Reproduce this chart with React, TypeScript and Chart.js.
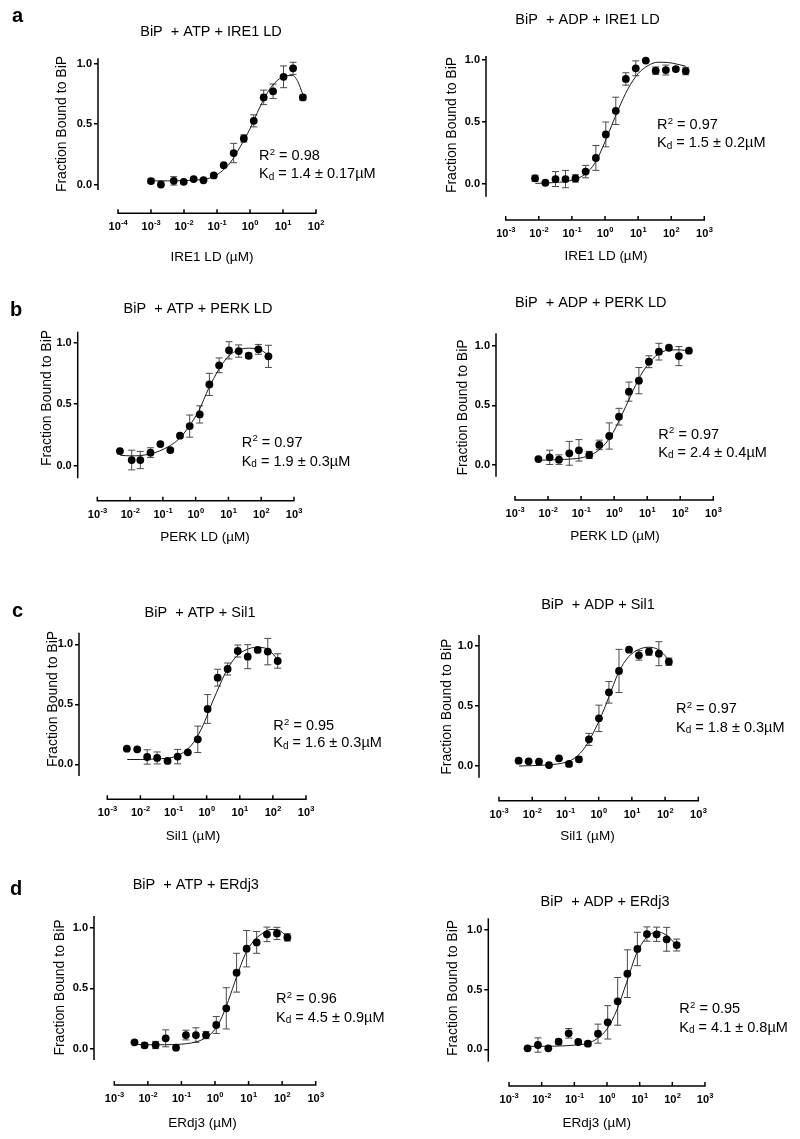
import React, { useEffect, useRef } from "react";
import { Chart, registerables } from "chart.js";

Chart.register(...registerables);

const FONT = "'Liberation Sans', Arial, Helvetica, sans-serif";

// ---------- tick labels ----------
const yTickValues = [0, 0.5, 1.0];
const decadesIreAtp = [1e-4, 1e-3, 1e-2, 1e-1, 1e0, 1e1, 1e2];
const decadesStd = [1e-3, 1e-2, 1e-1, 1e0, 1e1, 1e2, 1e3];

// ---------- a: BiP + ATP + IRE1 LD ----------
const aAtpConc = [0.001, 0.002, 0.0049, 0.0098, 0.0196, 0.039, 0.08, 0.16, 0.32, 0.65, 1.3, 2.6, 5.0, 10.4, 20.2, 40];
const aAtpFrac = [0.028, 0.0, 0.03, 0.022, 0.045, 0.035, 0.075, 0.16, 0.26, 0.38, 0.526, 0.72, 0.77, 0.89, 0.96, 0.72];
const aAtpErr = [0.02, 0, 0.035, 0.01, 0.01, 0.01, 0.01, 0, 0.08, 0.03, 0.05, 0.06, 0.06, 0.09, 0.05, 0.02];
const aAtpFitConc = [0.001, 0.00316, 0.01, 0.0316, 0.063, 0.126, 0.251, 0.501, 1, 2, 3.98, 7.94, 12.6, 20, 28.2, 39.8];
const aAtpFitFrac = [0.03, 0.03, 0.032, 0.04, 0.055, 0.1, 0.18, 0.31, 0.46, 0.64, 0.79, 0.875, 0.9, 0.9, 0.85, 0.745];

// ---------- a: BiP + ADP + IRE1 LD ----------
const aAdpConc = [0.0077, 0.0158, 0.032, 0.064, 0.128, 0.26, 0.53, 1.06, 2.12, 4.26, 8.5, 17.1, 34, 69, 138, 275];
const aAdpFrac = [0.046, 0.01, 0.04, 0.04, 0.045, 0.1, 0.21, 0.4, 0.59, 0.847, 0.933, 0.995, 0.914, 0.919, 0.927, 0.911];
const aAdpErr = [0.025, 0, 0.06, 0.07, 0.03, 0.05, 0.1, 0.1, 0.11, 0.05, 0.06, 0, 0.03, 0.04, 0.01, 0.03];
const aAdpFitConc = [0.0079, 0.0316, 0.1, 0.251, 0.501, 1, 1.58, 2.51, 5.01, 10, 20, 39.8, 79.4, 158, 275];
const aAdpFitFrac = [0.005, 0.012, 0.03, 0.08, 0.17, 0.34, 0.47, 0.6, 0.77, 0.89, 0.955, 0.982, 0.98, 0.965, 0.95];

// ---------- b: BiP + ATP + PERK LD ----------
const bAtpConc = [0.0049, 0.0112, 0.0205, 0.042, 0.084, 0.169, 0.333, 0.658, 1.33, 2.62, 5.2, 10.4, 20.6, 41.6, 82, 166];
const bAtpFrac = [0.119, 0.046, 0.046, 0.106, 0.176, 0.127, 0.244, 0.322, 0.417, 0.661, 0.816, 0.938, 0.932, 0.894, 0.946, 0.889];
const bAtpErr = [0, 0.08, 0.07, 0.04, 0, 0.01, 0.01, 0.09, 0.07, 0.09, 0.06, 0.07, 0.05, 0.02, 0.04, 0.09];
const bAtpFitConc = [0.005, 0.01, 0.02, 0.0398, 0.0794, 0.158, 0.316, 0.631, 1.26, 2.51, 5.01, 10, 20, 39.8, 79.4, 166];
const bAtpFitFrac = [0.085, 0.08, 0.082, 0.095, 0.12, 0.16, 0.22, 0.32, 0.45, 0.63, 0.78, 0.89, 0.94, 0.955, 0.95, 0.9];

// ---------- b: BiP + ADP + PERK LD ----------
const bAdpConc = [0.0051, 0.0112, 0.0214, 0.044, 0.086, 0.177, 0.355, 0.71, 1.4, 2.8, 5.6, 11.3, 22.6, 45.4, 91, 183];
const bAdpFrac = [0.05, 0.064, 0.045, 0.098, 0.123, 0.084, 0.168, 0.243, 0.405, 0.615, 0.707, 0.866, 0.95, 0.983, 0.913, 0.958];
const bAdpErr = [0, 0.06, 0.04, 0.1, 0.09, 0.03, 0.04, 0.11, 0.07, 0.08, 0.11, 0.05, 0.07, 0, 0.08, 0];
const bAdpFitConc = [0.005, 0.01, 0.0316, 0.1, 0.2, 0.398, 0.794, 1.58, 3.16, 6.31, 12.6, 25.1, 50.1, 100, 183];
const bAdpFitFrac = [0.04, 0.042, 0.047, 0.06, 0.085, 0.14, 0.24, 0.4, 0.58, 0.75, 0.87, 0.94, 0.965, 0.965, 0.955];

// ---------- c: BiP + ATP + Sil1 ----------
const cAtpConc = [0.0039, 0.008, 0.016, 0.032, 0.066, 0.133, 0.27, 0.54, 1.07, 2.15, 4.3, 8.7, 17.4, 34.8, 70, 140];
const cAtpFrac = [0.13, 0.125, 0.061, 0.053, 0.028, 0.064, 0.1, 0.208, 0.461, 0.722, 0.794, 0.944, 0.897, 0.953, 0.939, 0.861];
const cAtpErr = [0, 0, 0.06, 0.05, 0, 0.06, 0, 0.11, 0.12, 0.07, 0.05, 0.05, 0.1, 0, 0.11, 0.06];
const cAtpFitConc = [0.004, 0.01, 0.0316, 0.1, 0.2, 0.398, 0.794, 1.26, 2, 3.98, 7.94, 15.8, 31.6, 56.2, 100, 141];
const cAtpFitFrac = [0.04, 0.04, 0.045, 0.06, 0.1, 0.18, 0.33, 0.47, 0.6, 0.78, 0.9, 0.955, 0.975, 0.97, 0.92, 0.87];

// ---------- c: BiP + ADP + Sil1 ----------
const cAdpConc = [0.0039, 0.0078, 0.016, 0.032, 0.064, 0.128, 0.255, 0.51, 1.02, 2.04, 4.1, 8.2, 16.3, 32.7, 65, 130];
const cAdpFrac = [0.044, 0.039, 0.036, 0.008, 0.064, 0.017, 0.056, 0.222, 0.397, 0.614, 0.792, 0.969, 0.922, 0.953, 0.936, 0.869];
const cAdpErr = [0, 0, 0, 0, 0, 0.02, 0.02, 0.05, 0.11, 0.09, 0.18, 0, 0.04, 0.03, 0.1, 0.03];
const cAdpFitConc = [0.004, 0.01, 0.0316, 0.1, 0.2, 0.398, 0.794, 1.26, 2, 3.98, 7.94, 15.8, 31.6, 63.1, 100, 132];
const cAdpFitFrac = [0.0, 0.003, 0.01, 0.03, 0.07, 0.16, 0.31, 0.43, 0.57, 0.78, 0.91, 0.97, 0.99, 0.97, 0.92, 0.88];

// ---------- d: BiP + ATP + ERdj3 ----------
const dAtpConc = [0.004, 0.008, 0.017, 0.034, 0.069, 0.136, 0.27, 0.54, 1.09, 2.17, 4.4, 8.75, 17.4, 35.3, 70, 143];
const dAtpFrac = [0.055, 0.03, 0.033, 0.088, 0.011, 0.115, 0.115, 0.115, 0.198, 0.335, 0.629, 0.827, 0.879, 0.945, 0.953, 0.92];
const dAtpErr = [0, 0.02, 0.03, 0.07, 0, 0.04, 0.06, 0.03, 0.07, 0.17, 0.16, 0.15, 0.09, 0.06, 0.05, 0.03];
const dAtpFitConc = [0.004, 0.01, 0.0316, 0.1, 0.2, 0.398, 0.794, 1.41, 2.51, 4.47, 7.94, 14.1, 25.1, 44.7, 70.8, 112, 143];
const dAtpFitFrac = [0.04, 0.035, 0.035, 0.04, 0.05, 0.075, 0.13, 0.23, 0.4, 0.6, 0.78, 0.89, 0.95, 0.985, 0.985, 0.95, 0.92];

// ---------- d: BiP + ADP + ERdj3 ----------
const dAdpConc = [0.0037, 0.0077, 0.016, 0.033, 0.067, 0.132, 0.26, 0.53, 1.05, 2.12, 4.2, 8.5, 16.7, 33, 67, 136];
const dAdpFrac = [0.008, 0.036, 0.008, 0.064, 0.134, 0.061, 0.047, 0.131, 0.226, 0.402, 0.634, 0.841, 0.966, 0.964, 0.922, 0.874];
const dAdpErr = [0, 0.06, 0, 0.02, 0.04, 0, 0.02, 0.08, 0.14, 0.2, 0.2, 0.14, 0.06, 0.06, 0.1, 0.05];
const dAdpFitConc = [0.0037, 0.01, 0.0316, 0.1, 0.251, 0.501, 1, 2, 3.98, 7.94, 12.6, 20, 35.5, 63.1, 100, 135];
const dAdpFitFrac = [0.025, 0.025, 0.027, 0.035, 0.05, 0.09, 0.17, 0.33, 0.56, 0.8, 0.9, 0.96, 0.985, 0.96, 0.91, 0.87];

// ---------- layout (page pixels) ----------
type PanelDef = {
  canvas: { left: number; top: number; width: number; height: number };
  axis: {
    axisX: number; yTopPx: number; yBotPx: number; y1Px: number; y0Px: number;
    xAxisPx: number; decFirstPx: number; decLastPx: number;
  };
  pos: {
    title: number[]; yTitle: number[]; xTitle: number[]; ann: number[]; letter?: number[];
  };
  title: string; xLabel: string; letter?: string;
  r2: string; kdValue: string;
  decades: number[];
  conc: number[]; frac: number[]; err: number[];
  fitConc: number[]; fitFrac: number[];
};

const Y_LABEL = "Fraction Bound to BiP";

const panels: PanelDef[] = [
  {
    canvas: { left: 0, top: 0, width: 400, height: 270 },
    axis: { axisX: 98, yTopPx: 58.3, yBotPx: 190, y1Px: 63.5, y0Px: 184.5, xAxisPx: 213.3, decFirstPx: 118, decLastPx: 316 },
    pos: { title: [211, 32], yTitle: [62, 124], xTitle: [212, 257], ann: [259, 160, 178], letter: [12, 22] },
    title: "BiP  + ATP + IRE1 LD", xLabel: "IRE1 LD (µM)", letter: "a",
    r2: " = 0.98", kdValue: " = 1.4 ± 0.17µM",
    decades: decadesIreAtp,
    conc: aAtpConc, frac: aAtpFrac, err: aAtpErr, fitConc: aAtpFitConc, fitFrac: aAtpFitFrac,
  },
  {
    canvas: { left: 400, top: 0, width: 400, height: 270 },
    axis: { axisX: 486, yTopPx: 56, yBotPx: 196.7, y1Px: 60, y0Px: 184, xAxisPx: 220, decFirstPx: 505.7, decLastPx: 704.3 },
    pos: { title: [587.5, 20], yTitle: [451.7, 125], xTitle: [606, 256], ann: [657, 129, 147] },
    title: "BiP  + ADP + IRE1 LD", xLabel: "IRE1 LD (µM)",
    r2: " = 0.97", kdValue: " = 1.5 ± 0.2µM",
    decades: decadesStd,
    conc: aAdpConc, frac: aAdpFrac, err: aAdpErr, fitConc: aAdpFitConc, fitFrac: aAdpFitFrac,
  },
  {
    canvas: { left: 0, top: 270, width: 400, height: 280 },
    axis: { axisX: 77.7, yTopPx: 331.7, yBotPx: 478.3, y1Px: 342.7, y0Px: 465.7, xAxisPx: 500.7, decFirstPx: 97.3, decLastPx: 294 },
    pos: { title: [198, 309], yTitle: [46.7, 398], xTitle: [205, 537.3], ann: [241.7, 446.7, 465.7], letter: [10, 316] },
    title: "BiP  + ATP + PERK LD", xLabel: "PERK LD (µM)", letter: "b",
    r2: " = 0.97", kdValue: " = 1.9 ± 0.3µM",
    decades: decadesStd,
    conc: bAtpConc, frac: bAtpFrac, err: bAtpErr, fitConc: bAtpFitConc, fitFrac: bAtpFitFrac,
  },
  {
    canvas: { left: 400, top: 270, width: 400, height: 280 },
    axis: { axisX: 496, yTopPx: 333.3, yBotPx: 476.7, y1Px: 345.7, y0Px: 465, xAxisPx: 500, decFirstPx: 515, decLastPx: 713.3 },
    pos: { title: [590.8, 302.7], yTitle: [462.7, 407.5], xTitle: [615, 536.7], ann: [658.3, 438.5, 456.7] },
    title: "BiP  + ADP + PERK LD", xLabel: "PERK LD (µM)",
    r2: " = 0.97", kdValue: " = 2.4 ± 0.4µM",
    decades: decadesStd,
    conc: bAdpConc, frac: bAdpFrac, err: bAdpErr, fitConc: bAdpFitConc, fitFrac: bAdpFitFrac,
  },
  {
    canvas: { left: 0, top: 550, width: 400, height: 295 },
    axis: { axisX: 79, yTopPx: 632.7, yBotPx: 776, y1Px: 644.3, y0Px: 764.3, xAxisPx: 799.3, decFirstPx: 107.3, decLastPx: 306 },
    pos: { title: [200, 612.7], yTitle: [53.3, 699], xTitle: [193, 836], ann: [273.3, 730, 747.3], letter: [12, 616.7] },
    title: "BiP  + ATP + Sil1", xLabel: "Sil1 (µM)", letter: "c",
    r2: " = 0.95", kdValue: " = 1.6 ± 0.3µM",
    decades: decadesStd,
    conc: cAtpConc, frac: cAtpFrac, err: cAtpErr, fitConc: cAtpFitConc, fitFrac: cAtpFitFrac,
  },
  {
    canvas: { left: 400, top: 550, width: 400, height: 295 },
    axis: { axisX: 479, yTopPx: 635, yBotPx: 777.7, y1Px: 646, y0Px: 766, xAxisPx: 800.7, decFirstPx: 499, decLastPx: 698.3 },
    pos: { title: [598, 605], yTitle: [446.7, 706.7], xTitle: [587.5, 836], ann: [676, 713.3, 731.7] },
    title: "BiP  + ADP + Sil1", xLabel: "Sil1 (µM)",
    r2: " = 0.97", kdValue: " = 1.8 ± 0.3µM",
    decades: decadesStd,
    conc: cAdpConc, frac: cAdpFrac, err: cAdpErr, fitConc: cAdpFitConc, fitFrac: cAdpFitFrac,
  },
  {
    canvas: { left: 0, top: 845, width: 400, height: 294 },
    axis: { axisX: 94, yTopPx: 916, yBotPx: 1060, y1Px: 927.7, y0Px: 1049, xAxisPx: 1085, decFirstPx: 114.3, decLastPx: 315.7 },
    pos: { title: [195.8, 885], yTitle: [60, 987.5], xTitle: [202.5, 1123.3], ann: [276, 1003.3, 1021.7], letter: [10, 895] },
    title: "BiP  + ATP + ERdj3", xLabel: "ERdj3 (µM)", letter: "d",
    r2: " = 0.96", kdValue: " = 4.5 ± 0.9µM",
    decades: decadesStd,
    conc: dAtpConc, frac: dAtpFrac, err: dAtpErr, fitConc: dAtpFitConc, fitFrac: dAtpFitFrac,
  },
  {
    canvas: { left: 400, top: 845, width: 400, height: 294 },
    axis: { axisX: 488.3, yTopPx: 918.3, yBotPx: 1061.7, y1Px: 930, y0Px: 1049.3, xAxisPx: 1086, decFirstPx: 509, decLastPx: 705 },
    pos: { title: [605, 901.7], yTitle: [453.3, 988], xTitle: [596.7, 1123.3], ann: [679.3, 1013.3, 1031.7] },
    title: "BiP  + ADP + ERdj3", xLabel: "ERdj3 (µM)",
    r2: " = 0.95", kdValue: " = 4.1 ± 0.8µM",
    decades: decadesStd,
    conc: dAdpConc, frac: dAdpFrac, err: dAdpErr, fitConc: dAdpFitConc, fitFrac: dAdpFitFrac,
  },
];

const Y_SCALE_W = 40;

function buildChart(canvas: HTMLCanvasElement, d: PanelDef) {
  const c = d.canvas;
  const a = d.axis;
  const firstLog = Math.log10(d.decades[0]);
  const lastLog = Math.log10(d.decades[d.decades.length - 1]);
  const decPx = (a.decLastPx - a.decFirstPx) / (lastLog - firstLog);
  const xMin = Math.pow(10, firstLog - (a.decFirstPx - a.axisX) / decPx);
  const xMax = d.decades[d.decades.length - 1];
  const unit = a.y0Px - a.y1Px;
  const yMax = (a.y0Px - a.yTopPx) / unit;
  const yMin = (a.y0Px - a.xAxisPx) / unit;
  const yAxisBottomVal = (a.y0Px - a.yBotPx) / unit;
  const padding = {
    left: a.axisX - c.left - Y_SCALE_W,
    right: c.left + c.width - a.decLastPx,
    top: a.yTopPx - c.top,
    bottom: c.top + c.height - a.xAxisPx,
  };

  const points = d.conc.map((x, i) => ({ x, y: d.frac[i] }));
  const fit = d.fitConc.map((x, i) => ({ x, y: d.fitFrac[i] }));

  const ox = c.left;
  const oy = c.top;

  const deco = {
    id: "deco",
    beforeDatasetsDraw(chart: any) {
      const ctx = chart.ctx;
      const xs = chart.scales.x;
      const ys = chart.scales.y;
      ctx.save();
      ctx.strokeStyle = "#4a4a4a";
      ctx.lineWidth = 1;
      d.conc.forEach((cx, i) => {
        const e = d.err[i];
        if (!e) return;
        const px = xs.getPixelForValue(cx);
        const pt = ys.getPixelForValue(d.frac[i] + e);
        const pb = ys.getPixelForValue(d.frac[i] - e);
        ctx.beginPath();
        ctx.moveTo(px, pt);
        ctx.lineTo(px, pb);
        ctx.moveTo(px - 3.5, pt);
        ctx.lineTo(px + 3.5, pt);
        ctx.moveTo(px - 3.5, pb);
        ctx.lineTo(px + 3.5, pb);
        ctx.stroke();
      });
      ctx.restore();
    },
    afterDraw(chart: any) {
      const ctx = chart.ctx;
      const xs = chart.scales.x;
      const ys = chart.scales.y;
      const ca = chart.chartArea;
      ctx.save();
      ctx.strokeStyle = "#000";
      ctx.fillStyle = "#000";
      ctx.lineWidth = 1.5;
      // y axis line
      ctx.beginPath();
      ctx.moveTo(ca.left, ys.getPixelForValue(yMax));
      ctx.lineTo(ca.left, ys.getPixelForValue(yAxisBottomVal));
      ctx.stroke();
      // x axis line and decade ticks
      const xb = ca.bottom;
      const x0 = xs.getPixelForValue(d.decades[0]);
      const x1 = xs.getPixelForValue(d.decades[d.decades.length - 1]);
      ctx.beginPath();
      ctx.moveTo(x0 - 0.75, xb);
      ctx.lineTo(x1 + 0.75, xb);
      d.decades.forEach((v) => {
        const px = xs.getPixelForValue(v);
        ctx.moveTo(px, xb);
        ctx.lineTo(px, xb - 4);
      });
      ctx.stroke();
      // x tick labels with superscript exponents
      ctx.textBaseline = "alphabetic";
      ctx.textAlign = "left";
      const labelBase = xb + 17;
      d.decades.forEach((v) => {
        const px = xs.getPixelForValue(v);
        const exp = String(Math.round(Math.log10(v)));
        ctx.font = `bold 11px ${FONT}`;
        const w1 = ctx.measureText("10").width;
        ctx.font = `bold 7.5px ${FONT}`;
        const w2 = ctx.measureText(exp).width;
        const start = px - (w1 + w2) / 2;
        ctx.font = `bold 11px ${FONT}`;
        ctx.fillText("10", start, labelBase);
        ctx.font = `bold 7.5px ${FONT}`;
        ctx.fillText(exp, start + w1 + 0.3, labelBase - 5);
      });
      // panel title
      ctx.font = `14.5px ${FONT}`;
      ctx.textAlign = "center";
      ctx.textBaseline = "middle";
      ctx.fillText(d.title, d.pos.title[0] - ox, d.pos.title[1] - oy);
      // x axis title
      ctx.font = `13.5px ${FONT}`;
      ctx.fillText(d.xLabel, d.pos.xTitle[0] - ox, d.pos.xTitle[1] - oy);
      // y axis title
      ctx.save();
      ctx.translate(d.pos.yTitle[0] - ox, d.pos.yTitle[1] - oy);
      ctx.rotate(-Math.PI / 2);
      ctx.font = `14px ${FONT}`;
      ctx.fillText(Y_LABEL, 0, 0);
      ctx.restore();
      // annotations
      ctx.textAlign = "left";
      ctx.textBaseline = "alphabetic";
      let ax = d.pos.ann[0] - ox;
      const b1 = d.pos.ann[1] - oy;
      const b2 = d.pos.ann[2] - oy;
      ctx.font = `14.5px ${FONT}`;
      ctx.fillText("R", ax, b1);
      ax += ctx.measureText("R").width;
      ctx.font = `9.5px ${FONT}`;
      ctx.fillText("2", ax + 0.3, b1 - 5.5);
      ax += ctx.measureText("2").width + 0.3;
      ctx.font = `14.5px ${FONT}`;
      ctx.fillText(d.r2, ax, b1);
      let kx = d.pos.ann[0] - ox;
      ctx.fillText("K", kx, b2);
      kx += ctx.measureText("K").width;
      ctx.font = `10px ${FONT}`;
      ctx.fillText("d", kx, b2 + 1.5);
      kx += ctx.measureText("d").width;
      ctx.font = `14.5px ${FONT}`;
      ctx.fillText(d.kdValue, kx, b2);
      // panel letter
      if (d.letter && d.pos.letter) {
        ctx.font = `bold 20px ${FONT}`;
        ctx.fillText(d.letter, d.pos.letter[0] - ox, d.pos.letter[1] - oy);
      }
      ctx.restore();
    },
  };

  return new Chart(canvas, {
    type: "scatter",
    data: {
      datasets: [
        {
          data: fit,
          showLine: true,
          borderColor: "#1a1a1a",
          borderWidth: 1,
          pointRadius: 0,
          cubicInterpolationMode: "monotone",
          clip: false,
          order: 2,
        } as any,
        {
          data: points,
          pointRadius: 3.9,
          pointBackgroundColor: "#000",
          pointBorderWidth: 0,
          clip: false,
          order: 1,
        } as any,
      ],
    },
    options: {
      responsive: false,
      maintainAspectRatio: false,
      animation: false,
      devicePixelRatio: 1,
      events: [],
      layout: { padding },
      plugins: {
        legend: { display: false },
        title: { display: false },
        tooltip: { enabled: false },
      },
      scales: {
        x: { type: "logarithmic", display: false, min: xMin, max: xMax },
        y: {
          type: "linear",
          min: yMin,
          max: yMax,
          afterBuildTicks: (s: any) => {
            s.ticks = yTickValues.map((v) => ({ value: v }));
          },
          afterFit: (s: any) => {
            s.width = Y_SCALE_W;
          },
          ticks: {
            font: { family: FONT, size: 11, weight: "bold" },
            color: "#000",
            padding: 2,
            callback: (v: any) => Number(v).toFixed(1),
          },
          grid: {
            display: true,
            drawOnChartArea: false,
            drawTicks: true,
            tickLength: 4,
            color: "#000",
            lineWidth: 1.5,
          },
          border: { display: false },
        },
      },
    } as any,
    plugins: [deco],
  });
}

function Panel({ def }: { def: PanelDef }) {
  const ref = useRef<HTMLCanvasElement>(null);
  useEffect(() => {
    if (!ref.current) return;
    const chart = buildChart(ref.current, def);
    return () => chart.destroy();
  }, [def]);
  const c = def.canvas;
  return (
    <canvas
      ref={ref}
      width={c.width}
      height={c.height}
      style={{ position: "absolute", left: c.left, top: c.top, width: c.width, height: c.height }}
    />
  );
}

export default function App() {
  return (
    <div style={{ position: "absolute", left: 0, top: 0, width: 800, height: 1139, background: "#fff" }}>
      {panels.map((p, i) => (
        <Panel key={i} def={p} />
      ))}
    </div>
  );
}
